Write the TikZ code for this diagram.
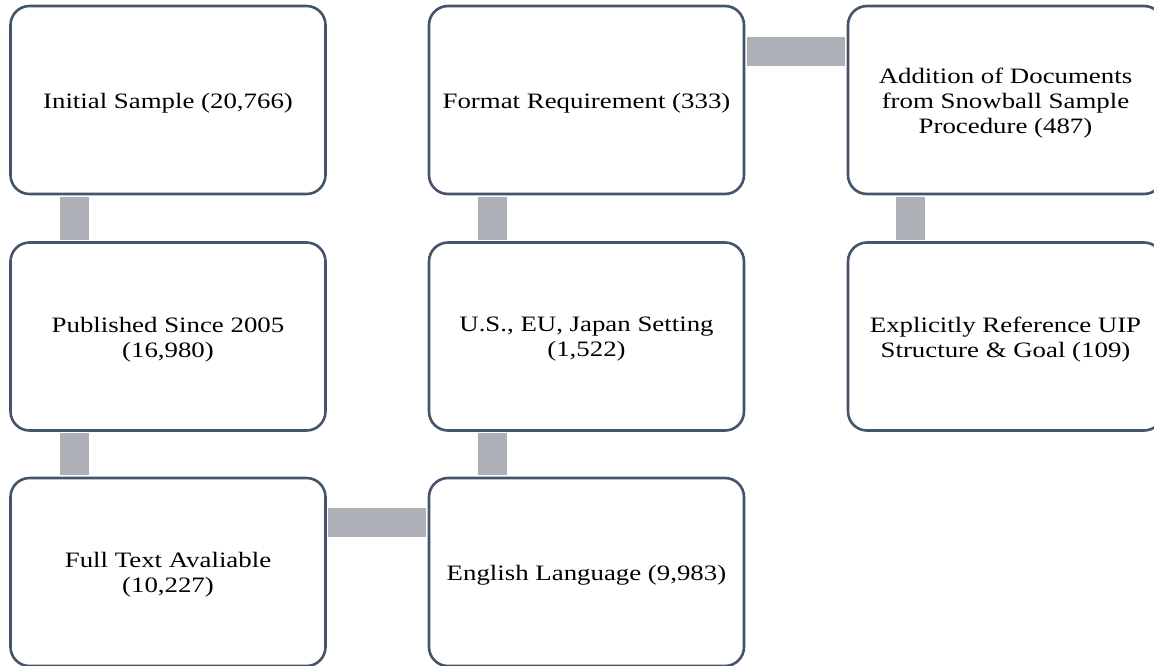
\documentclass[tikz,border=0pt]{standalone}
\usepackage{fontspec}
\setmainfont{Liberation Serif}[FakeStretch=1.22]
\usetikzlibrary{calc}
\definecolor{boxline}{HTML}{44546A}
\definecolor{barfill}{HTML}{AEB0B8}
\begin{document}
\begin{tikzpicture}[x=1pt,y=-1pt,
  stepbox/.style={draw=boxline, line width=2.6pt, fill=white, rounded corners=19pt,
    minimum width=315pt, minimum height=188pt, inner sep=0pt},
  txt/.style={align=center, inner sep=0pt, yshift=-3pt,
    font=\fontsize{22}{25}\selectfont},
  bar/.style={draw=barfill, line width=28.5pt, line cap=butt}]
\useasboundingbox (0,0) rectangle (1154,665);
\path (168,100) coordinate (c11) (168,336.5) coordinate (c12) (168,572) coordinate (c13)
      (586.5,100) coordinate (c21) (586.5,336.5) coordinate (c22) (586.5,572) coordinate (c23)
      (1005.5,100) coordinate (c31) (1005.5,336.5) coordinate (c32);
\node[stepbox, label={[txt]center:{Initial Sample (20,766)}}] (n1) at (c11) {};
\node[stepbox, label={[txt]center:{Published Since 2005\\(16,980)}}] (n2) at (c12) {};
\node[stepbox, label={[txt]center:{Full Text Avaliable\\(10,227)}}] (n3) at (c13) {};
\node[stepbox, label={[txt]center:{English Language (9,983)}}] (n4) at (c23) {};
\node[stepbox, label={[txt]center:{U.S., EU, Japan Setting\\(1,522)}}] (n5) at (c22) {};
\node[stepbox, label={[txt]center:{Format Requirement (333)}}] (n6) at (c21) {};
\node[stepbox, label={[txt]center:{Addition of Documents\\from Snowball Sample\\Procedure (487)}}] (n7) at (c31) {};
\node[stepbox, label={[txt]center:{Explicitly Reference UIP\\Structure \& Goal (109)}}] (n8) at (c32) {};
% connectors between boxes
\draw[bar] ($(n1.south west)+(65.5,1.3)$) -- ($(n2.north west)+(65.5,-1.3)$);
\draw[bar] ($(n2.south west)+(65.5,1.3)$) -- ($(n3.north west)+(65.5,-1.3)$);
\draw[bar] ($(n3.north east)+(1.3,46)$) -- ($(n4.north west)+(-1.3,46)$);
\draw[bar] ($(n4.north west)+(65,-1.3)$) -- ($(n5.south west)+(65,1.3)$);
\draw[bar] ($(n5.north west)+(65,-1.3)$) -- ($(n6.south west)+(65,1.3)$);
\draw[bar] ($(n6.north east)+(1.3,47)$) -- ($(n7.north west)+(-1.3,47)$);
\draw[bar] ($(n7.south west)+(64,1.3)$) -- ($(n8.north west)+(64,-1.3)$);
\end{tikzpicture}
\end{document}
